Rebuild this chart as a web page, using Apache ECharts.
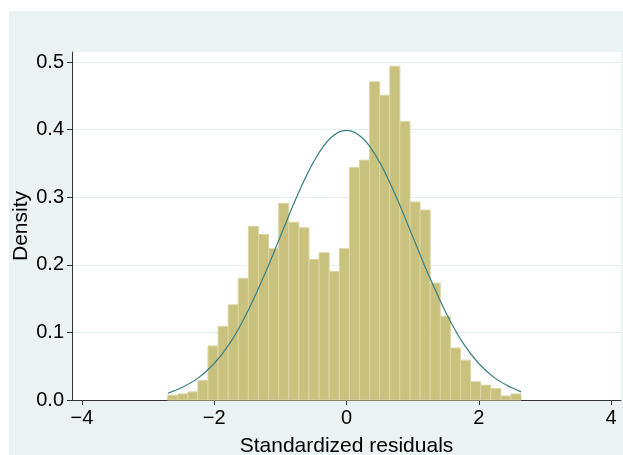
<!DOCTYPE html>
<html>
<head>
<meta charset="utf-8">
<title>Standardized residuals</title>
<script src="https://cdn.jsdelivr.net/npm/echarts@6.0.0/dist/echarts.min.js"></script>
<style>
    html, body { margin: 0; padding: 0; background: #ffffff; }
    #main { position: absolute; left: 9px; top: 11px; width: 614px; height: 444px; background: #eaf2f3; }
</style>
</head>
<body>
<div id="main"></div>
<script>
// histogram: 35 bins starting at binStart, each binWidth wide
const binStart = -2.705;
const binWidth = 0.1527;
const density = [
    0.007, 0.009, 0.012, 0.029, 0.080, 0.109, 0.141, 0.180, 0.257, 0.245,
    0.224, 0.291, 0.263, 0.255, 0.208, 0.218, 0.190, 0.224, 0.344, 0.355,
    0.471, 0.451, 0.494, 0.412, 0.293, 0.281, 0.173, 0.124, 0.077, 0.059,
    0.027, 0.022, 0.017, 0.006, 0.009
];

// normal density overlay
const curveX = [-2.70, -2.50, -2.25, -2.00, -1.75, -1.50, -1.25, -1.00, -0.75, -0.50, -0.25, 0.00,
    0.25, 0.50, 0.75, 1.00, 1.25, 1.50, 1.75, 2.00, 2.25, 2.50, 2.64];
const curveY = [0.010, 0.018, 0.032, 0.054, 0.086, 0.130, 0.183, 0.242, 0.301, 0.352, 0.387, 0.399,
    0.387, 0.352, 0.301, 0.242, 0.183, 0.130, 0.086, 0.054, 0.032, 0.018, 0.012];

const xTicks = [-4, -2, 0, 2, 4];
const yTicks = [0, 0.1, 0.2, 0.3, 0.4, 0.5];

const font = 'Liberation Sans, Arial, sans-serif';

let bars = density.map((d, i) => [binStart + i * binWidth, binStart + (i + 1) * binWidth, d]);
let curve = curveX.map((x, i) => [x, curveY[i]]);

let myChart = echarts.init(document.getElementById('main'));
myChart.setOption({
    animation: false,
    grid: {
        left: 63,
        right: 2,
        top: 41,
        bottom: 55,
        containLabel: false,
        outerBoundsMode: 'none',
        show: true,
        backgroundColor: '#ffffff',
        borderWidth: 0
    },
    xAxis: {
        type: 'value',
        min: -4.15,
        max: 4.15,
        name: 'Standardized residuals',
        nameLocation: 'middle',
        nameGap: 36,
        nameMoveOverlap: false,
        nameTextStyle: { fontFamily: font, fontSize: 21, color: '#000' },
        axisLine: { onZero: false, lineStyle: { color: '#333', width: 1 } },
        axisTick: { length: 5, customValues: xTicks, lineStyle: { color: '#333' } },
        axisLabel: {
            customValues: xTicks,
            margin: 8,
            fontFamily: font,
            fontSize: 20,
            color: '#000',
            formatter: (v) => v < 0 ? '\u2212' + Math.abs(v) : String(v)
        },
        splitLine: { show: false }
    },
    yAxis: {
        type: 'value',
        min: 0,
        max: 0.515,
        name: 'Density',
        nameLocation: 'middle',
        nameGap: 40,
        nameMoveOverlap: false,
        nameTextStyle: { fontFamily: font, fontSize: 21, color: '#000' },
        axisLine: { show: true, onZero: false, lineStyle: { color: '#333', width: 1 } },
        axisTick: { show: true, length: 5, customValues: yTicks, lineStyle: { color: '#333' } },
        axisLabel: {
            customValues: yTicks,
            margin: 8,
            fontFamily: font,
            fontSize: 20,
            color: '#000',
            formatter: (v) => v.toFixed(1)
        },
        splitLine: { show: true, lineStyle: { color: '#e4eef0', width: 1 } }
    },
    series: [{
        type: 'custom',
        data: bars,
        encode: { x: [0, 1], y: 2 },
        renderItem: (params, api) => {
            let p0 = api.coord([api.value(0), api.value(2)]);
            let p1 = api.coord([api.value(1), 0]);
            return {
                type: 'rect',
                shape: { x: p0[0], y: p0[1], width: p1[0] - p0[0], height: p1[1] - p0[1] },
                style: { fill: '#c9c27f', stroke: '#dcd5a3', lineWidth: 1 }
            };
        }
    }, {
        type: 'line',
        data: curve,
        smooth: 0.35,
        showSymbol: false,
        lineStyle: { color: '#3a8080', width: 1.2 },
        z: 3
    }]
});
</script>
</body>
</html>
